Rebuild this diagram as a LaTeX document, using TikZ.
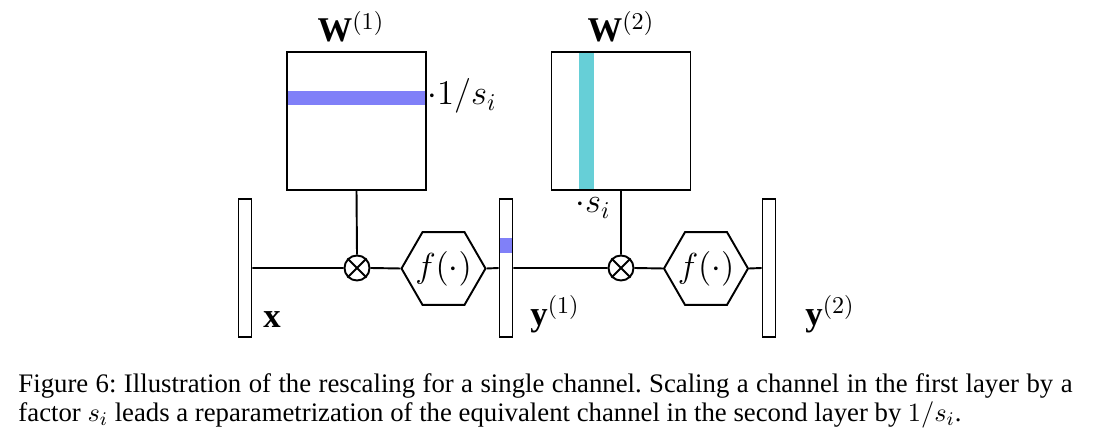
\documentclass[tikz,border=0pt]{standalone}
\usepackage{amsmath,amssymb}
\usepackage{fontspec}
\setmainfont{Liberation Serif}
\usepackage{xcolor}
\usepackage{tikz}
\usetikzlibrary{calc,shapes.geometric}
\definecolor{rowc}{HTML}{8080F8}
\definecolor{colc}{HTML}{66CFD7}
\def\pxu{0.415pt}
\newcommand\actf{\makebox[0pt]{$f(\cdot)$}}
\frenchspacing
\tikzset{
  ln/.style={line width=0.8pt,black},
  mat/.style={draw,line width=0.8pt,minimum width=139*\pxu,minimum height=138*\pxu,inner sep=0pt},
  vec/.style={draw,line width=0.8pt,minimum width=13*\pxu,minimum height=138*\pxu,inner sep=0pt},
  mul/.style={draw,circle,line width=0.8pt,minimum size=25*\pxu,inner sep=0pt},
  act/.style={draw,regular polygon,regular polygon sides=6,line width=0.8pt,minimum size=84*\pxu,inner sep=0pt,font=\Large},
  lab/.style={font=\Large,inner sep=0pt},
  captext/.style={text width=437.4pt,align=justify,inner sep=0pt,font=\fontsize{11.1}{12}\selectfont}
}

\begin{document}
\begin{tikzpicture}[x=\pxu,y=-\pxu]
\useasboundingbox (0,0) rectangle (1099,440);
% rescaled row / column
\fill[rowc] (287,91) rectangle (426,105);
\fill[colc] (579,52) rectangle (594,190);
\fill[rowc] (499,238) rectangle (513,253);
\node[mat] (W1) at (356.5,121) {};
\node[mat] (W2) at (621,121) {};
\node[vec] (x) at (245,268) {};
\node[vec] (y1) at (506,268) {};
\node[vec] (y2) at (769,268) {};
\node[mul] (m1) at (357,268) {};
\node[mul] (m2) at (621,268) {};
\node[act] (f1) at (443.5,268.5) {\actf};
\node[act] (f2) at (706,268.5) {\actf};
\foreach \m in {m1,m2}{\draw[ln] (\m.45)--(\m.225) (\m.135)--(\m.315);}
\draw[ln] (x.east)--(m1.west) (m1.east)--(f1.west) (f1.east)--(y1.west)
  (y1.east)--(m2.west) (m2.east)--(f2.west) (f2.east)--(y2.west);
\draw[ln] (W1.south)--(m1.north) (W2.south)--(m2.north);
% labels
\node[lab,anchor=base] (lW1) at (351,42) {$\mathbf{W}^{(1)}$};
\node[lab,anchor=base] (lW2) at (621,42) {$\mathbf{W}^{(2)}$};
\node[lab,anchor=base west] (ls1) at (427,105) {$\cdot 1/s_i$};
\node[lab,anchor=base west] (ls2) at (575,213) {$\cdot s_i$};
\node[lab,anchor=base west] (lx) at (263,328) {$\mathbf{x}$};
\node[lab,anchor=base west] (ly1) at (530,326) {$\mathbf{y}^{(1)}$};
\node[lab,anchor=base west] (ly2) at (805,326) {$\mathbf{y}^{(2)}$};
\node[captext,anchor=north west] (capt) at (18,373) {Figure 6: Illustration of the rescaling for a single channel. Scaling a channel in the first layer by a\linebreak factor $s_i$ leads a reparametrization of the equivalent channel in the second layer by $1/s_i$.};
\end{tikzpicture}
\end{document}
